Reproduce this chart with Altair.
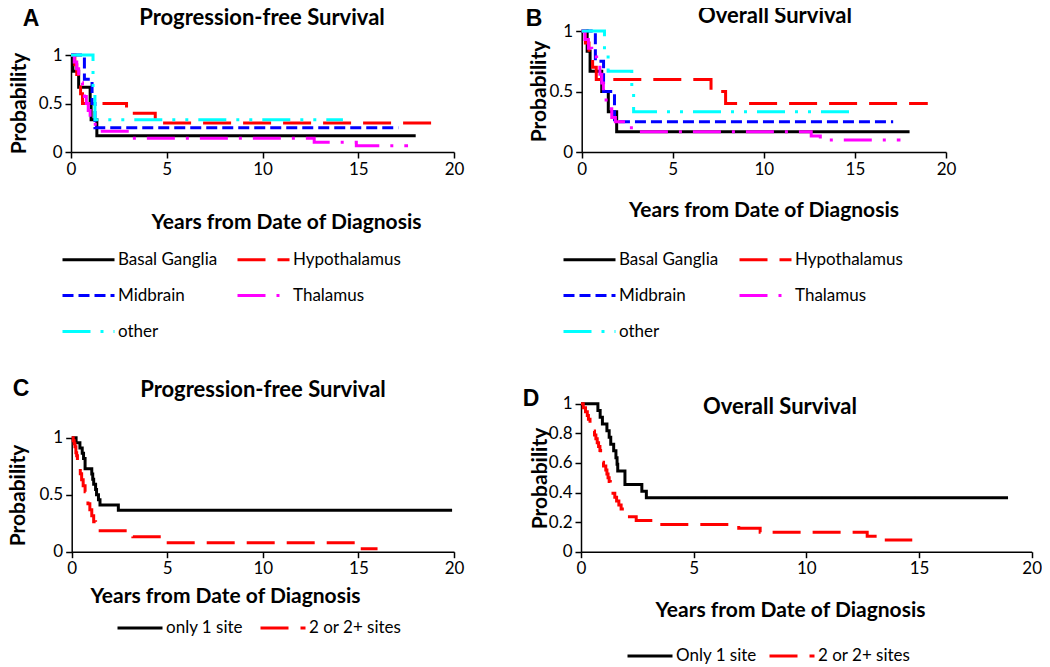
import altair as alt
import pandas as pd

FONT = "Lato"
LABEL_FONT = "Liberation Sans"

# ---------------- data ----------------
# legend order is column-major in Vega, so this order gives rows:
# Basal Ganglia | Hypothalamus / Midbrain | Thalamus / other
SITES = ["Basal Ganglia", "Midbrain", "other", "Hypothalamus", "Thalamus"]
SITE_COLORS = ["#000000", "#0000ff", "#00ffff", "#ff0000", "#ff00ff"]
SITE_DASHES = [[1, 0], [11, 5], [28, 10, 3, 10, 3, 10], [28, 12], [28, 11, 3, 11]]

NSITES_C = ["only 1 site", "2 or 2+ sites"]
NSITES_D = ["Only 1 site", "2 or 2+ sites"]
NSITE_COLORS = ["#000000", "#ff0000"]
NSITE_DASHES = [[1, 0], [28, 12]]

X_TICKS = [0, 5, 10, 15, 20]
Y_TICKS_ABC = [0, 0.5, 1]
Y_TICKS_D = [0, 0.2, 0.4, 0.6, 0.8, 1]

# Panel A: progression-free survival by site (step points, last = censor end)
A_basal_t = [0, 0.1, 0.4, 1.0, 1.05, 1.35, 18.0]
A_basal_p = [1, 0.833, 0.667, 0.5, 0.333, 0.167, 0.167]
A_hypo_t = [0, 0.2, 0.3, 0.45, 0.5, 0.6, 2.9, 4.4, 19.0]
A_hypo_p = [1, 0.9, 0.8, 0.7, 0.6, 0.5, 0.4, 0.3, 0.3]
A_mid_t = [0, 0.7, 1.1, 1.25, 17.1]
A_mid_p = [1, 0.75, 0.5, 0.25, 0.25]
A_thal_t = [0, 0.17, 0.3, 0.4, 0.5, 0.6, 0.7, 0.8, 0.9, 1.0, 1.1, 1.4, 3.2, 12.7, 14.9, 17.6]
A_thal_p = [1, 0.929, 0.857, 0.786, 0.714, 0.643, 0.571, 0.5, 0.429, 0.357, 0.286, 0.214, 0.143, 0.1, 0.065, 0.065]
A_other_t = [0, 1.15, 1.25, 14.2]
A_other_p = [1, 0.667, 0.333, 0.333]

# Panel B: overall survival by site
B_basal_t = [0, 0.3, 0.46, 1.1, 1.46, 1.92, 18.0]
B_basal_p = [1, 0.833, 0.667, 0.5, 0.333, 0.167, 0.167]
B_hypo_t = [0, 0.2, 0.4, 0.6, 0.8, 7.1, 7.9, 19.0]
B_hypo_p = [1, 0.9, 0.8, 0.7, 0.6, 0.5, 0.4, 0.4]
B_mid_t = [0, 0.75, 1.2, 1.8, 17.1]
B_mid_p = [1, 0.75, 0.5, 0.25, 0.25]
B_thal_t = [0, 0.18, 0.37, 0.55, 0.82, 1.0, 1.1, 1.19, 1.34, 1.52, 1.65, 1.85, 2.6, 3.0, 12.6, 13.1, 17.5]
B_thal_p = [1, 0.929, 0.857, 0.786, 0.714, 0.643, 0.571, 0.5, 0.429, 0.357, 0.286, 0.25, 0.2, 0.167, 0.133, 0.1, 0.1]
B_other_t = [0, 1.25, 1.45, 2.75, 2.85, 14.8]
B_other_p = [1, 0.833, 0.667, 0.5, 0.333, 0.333]

# Panel C: progression-free survival by number of sites
C_one_t = [0, 0.23, 0.43, 0.55, 0.62, 0.7, 1.05, 1.1, 1.15, 1.25, 1.3, 1.4, 1.48, 2.44, 19.9]
C_one_p = [1, 0.955, 0.909, 0.864, 0.818, 0.727, 0.682, 0.636, 0.591, 0.545, 0.5, 0.455, 0.409, 0.364, 0.364]
C_multi_t = [0, 0.08, 0.13, 0.17, 0.22, 0.26, 0.3, 0.38, 0.45, 0.52, 0.6, 0.7, 0.78, 0.85, 0.95,
             1.05, 1.15, 1.25, 1.4, 3.2, 4.8, 15.2, 16.0]
C_multi_p = [1, 0.974, 0.947, 0.921, 0.868, 0.842, 0.789, 0.737, 0.684, 0.632, 0.579, 0.526, 0.474, 0.421, 0.368,
             0.316, 0.263, 0.237, 0.184, 0.132, 0.079, 0.026, 0.026]

# Panel D: overall survival by number of sites
D_one_t = [0, 0.75, 0.85, 0.95, 1.15, 1.25, 1.32, 1.45, 1.55, 1.6, 1.63, 1.95, 2.7, 2.9, 18.95]
D_one_p = [1, 0.955, 0.909, 0.864, 0.818, 0.773, 0.727, 0.682, 0.636, 0.591, 0.545, 0.455, 0.409, 0.364, 0.364]
D_multi_t = [0, 0.1, 0.2, 0.28, 0.33, 0.4, 0.47, 0.53, 0.6, 0.66, 0.72, 0.78, 0.84, 0.87, 0.9, 0.93, 1.0,
             1.1, 1.15, 1.2, 1.25, 1.3, 1.35, 1.42, 1.5, 1.58, 1.68, 1.78, 1.95, 2.15, 2.45, 3.4, 7.0, 7.95,
             12.7, 13.2, 14.7]
D_multi_p = [1, 0.974, 0.947, 0.921, 0.895, 0.868, 0.842, 0.816, 0.789, 0.763, 0.737, 0.711, 0.684, 0.658,
             0.632, 0.605, 0.579, 0.553, 0.526, 0.5, 0.474, 0.447, 0.421, 0.395, 0.368, 0.342, 0.316, 0.289,
             0.263, 0.237, 0.211, 0.184, 0.158, 0.132, 0.105, 0.079, 0.079]


def frame(series):
    rows = []
    for name, ts, ps in series:
        for i, (t, p) in enumerate(zip(ts, ps)):
            rows.append({"t": t, "p": p, "g": name, "i": i})
    return pd.DataFrame(rows)


dfA = frame([("Basal Ganglia", A_basal_t, A_basal_p), ("Hypothalamus", A_hypo_t, A_hypo_p),
             ("Midbrain", A_mid_t, A_mid_p), ("Thalamus", A_thal_t, A_thal_p), ("other", A_other_t, A_other_p)])
dfB = frame([("Basal Ganglia", B_basal_t, B_basal_p), ("Hypothalamus", B_hypo_t, B_hypo_p),
             ("Midbrain", B_mid_t, B_mid_p), ("Thalamus", B_thal_t, B_thal_p), ("other", B_other_t, B_other_p)])
dfC = frame([("only 1 site", C_one_t, C_one_p), ("2 or 2+ sites", C_multi_t, C_multi_p)])
dfD = frame([("Only 1 site", D_one_t, D_one_p), ("2 or 2+ sites", D_multi_t, D_multi_p)])

H = 658
W = 1034


def panel(df, groups, colors, dashes, xr, yr, yticks, xtitle_xy, ytitle_xy, legend_xy, legend_cols,
          col_pad, sym_size=2704, width=3):
    x_off = yr[0] - H
    y_off = -xr[0]
    xaxis = alt.Axis(orient="bottom", offset=x_off, values=X_TICKS, grid=False,
                     domainColor="black", domainWidth=1.5, tickColor="black", tickWidth=1.5, tickSize=6,
                     labelFont=FONT, labelFontSize=17, labelColor="black", labelPadding=3,
                     labelFlush=False, labelOverlap=False,
                     title="Years from Date of Diagnosis", titleFont=FONT, titleFontSize=21,
                     titleFontWeight="bold", titleColor="black", titleX=xtitle_xy[0],
                     titleY=xtitle_xy[1] - yr[0], titleAlign="center", titleBaseline="alphabetic",
                     titleAngle=0)
    yaxis = alt.Axis(orient="left", offset=y_off, values=yticks, format="~g", grid=False,
                     domainColor="black", domainWidth=1.5, tickColor="black", tickWidth=1.5, tickSize=6,
                     labelFont=FONT, labelFontSize=17, labelColor="black", labelPadding=3,
                     labelFlush=False, labelOverlap=False,
                     title="Probability", titleFont=FONT, titleFontSize=21, titleFontWeight="bold",
                     titleColor="black", titleX=ytitle_xy[0] - xr[0], titleY=ytitle_xy[1],
                     titleAlign="center", titleBaseline="alphabetic", titleAngle=270)
    leg = alt.Legend(title=None, orient="none", legendX=legend_xy[0], legendY=legend_xy[1],
                     columns=legend_cols, symbolType="stroke", symbolSize=sym_size, symbolStrokeWidth=3,
                     labelFont=FONT, labelFontSize=17, labelColor="black", labelOffset=2,
                     columnPadding=col_pad, rowPadding=0, padding=0)
    return alt.Chart(df).mark_line(interpolate="step-after", strokeWidth=width).encode(
        x=alt.X("t:Q", scale=alt.Scale(domain=[0, 20], range=xr, nice=False, zero=False), axis=xaxis),
        y=alt.Y("p:Q", scale=alt.Scale(domain=[0, 1], range=yr, nice=False, zero=False), axis=yaxis),
        color=alt.Color("g:N", scale=alt.Scale(domain=groups, range=colors), legend=leg),
        strokeDash=alt.StrokeDash("g:N", scale=alt.Scale(domain=groups, range=dashes), legend=leg),
        order="i:Q",
    )


def text(s, x, y, size, weight="bold", font=FONT):
    return alt.Chart(pd.DataFrame({"s": [s]})).mark_text(
        font=font, fontSize=size, fontWeight=weight, color="black", align="center", baseline="alphabetic"
    ).encode(x=alt.value(x), y=alt.value(y), text="s:N")


pA = panel(dfA, SITES, SITE_COLORS, SITE_DASHES, [63, 446], [144, 47], Y_TICKS_ABC,
           (278, 220), (17, 95), (53, 224), 2, 13)
pB = panel(dfB, SITES, SITE_COLORS, SITE_DASHES, [573.7, 938], [144, 23], Y_TICKS_ABC,
           (755.5, 208.7), (537, 83), (554, 224), 2, 14)
pC = panel(dfC, NSITES_C, NSITE_COLORS, NSITE_DASHES, [63.7, 446], [543.7, 429.7], Y_TICKS_ABC,
           (217, 594), (17, 487), (108, 596), 2, 11, sym_size=2025)
pD = panel(dfD, NSITES_D, NSITE_COLORS, NSITE_DASHES, [573, 1023.7], [543.7, 395.8], Y_TICKS_D,
           (782, 608), (538, 470), (618, 624), 2, 6, sym_size=2025)

labels = [
    text("A", 23, 18, 23, font=LABEL_FONT), text("Progression-free Survival", 254, 17, 22),
    text("B", 526, 18, 23, font=LABEL_FONT), text("Overall Survival", 767, 15, 22),
    text("C", 13, 388, 23, font=LABEL_FONT), text("Progression-free Survival", 255, 389, 22),
    text("D", 523, 398, 23, font=LABEL_FONT), text("Overall Survival", 772, 406, 22),
]

chart = alt.layer(pA, pB, pC, pD, *labels).resolve_scale(
    x="independent", y="independent", color="independent", strokeDash="independent"
).resolve_axis(x="independent", y="independent").resolve_legend(
    color="independent", strokeDash="independent"
).properties(
    width=W, height=H, autosize=alt.AutoSizeParams(type="none"), padding=0
).configure_view(stroke="transparent")

chart.save("out.html", embed_options={"renderer": "svg", "actions": False})
